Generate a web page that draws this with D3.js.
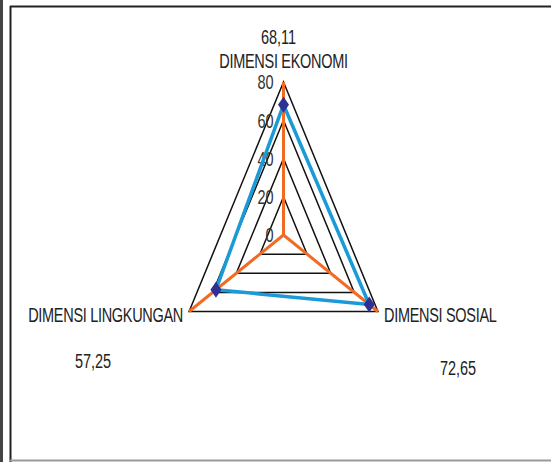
<!DOCTYPE html>
<html>
<head>
<meta charset="utf-8">
<script src="https://cdn.jsdelivr.net/npm/d3@7"></script>
<style>
  body { margin: 0; background: #fff; }
  text { font-family: "Liberation Sans", Arial, sans-serif; fill: #222; }
</style>
</head>
<body>
<div id="chart"></div>
<script>
const width = 551;
const height = 462;

// data
const dimensions = ["DIMENSI EKONOMI", "DIMENSI SOSIAL", "DIMENSI LINGKUNGAN"];
const scores = [68.11, 72.65, 57.25];
const scoreLabels = ["68,11", "72,65", "57,25"];
const ticks = [0, 20, 40, 60, 80];

const cx = 283.5, cy = 235;
const stretch = 1.4; // picture is stretched vertically

const svg = d3.select("#chart").append("svg")
  .attr("width", width)
  .attr("height", height);

// frame
svg.append("rect").attr("x", 0).attr("y", 0).attr("width", 3).attr("height", height).attr("fill", "#444");
svg.append("line").attr("x1", 10).attr("x2", width).attr("y1", 6.5).attr("y2", 6.5)
  .attr("stroke", "#222").attr("stroke-width", 2);
svg.append("line").attr("x1", 10.5).attr("x2", 10.5).attr("y1", 6).attr("y2", height)
  .attr("stroke", "#222").attr("stroke-width", 2);
svg.append("line").attr("x1", 10).attr("x2", width).attr("y1", 460.5).attr("y2", 460.5)
  .attr("stroke", "#999").attr("stroke-width", 2);

const rx = d3.scaleLinear().domain([0, 80]).range([0, 109]);
const ry = d3.scaleLinear().domain([0, 80]).range([0, 153]);
const angle = d3.scalePoint().domain(dimensions).range([0, 2 * Math.PI * 2 / 3]);

function pt(dim, v) {
  const a = angle(dim);
  return [cx + rx(v) * Math.sin(a), cy - ry(v) * Math.cos(a)];
}

// grid rings
svg.append("g")
  .selectAll("path")
  .data(ticks.filter(t => t > 0))
  .enter()
  .append("path")
  .attr("d", t => "M" + dimensions.map(d => pt(d, t).join(",")).join("L") + "Z")
  .attr("fill", "none")
  .attr("stroke", "#111")
  .attr("stroke-width", 1.5);

// spokes
svg.append("g")
  .selectAll("line")
  .data(dimensions)
  .enter()
  .append("line")
  .attr("x1", cx).attr("y1", cy)
  .attr("x2", d => pt(d, 80)[0])
  .attr("y2", d => pt(d, 80)[1])
  .attr("stroke", "#f26b25")
  .attr("stroke-width", 3);

// tick labels
svg.append("g")
  .selectAll("text")
  .data(ticks)
  .enter()
  .append("text")
  .attr("transform", t => "translate(" + (cx - 10) + "," + (cy - ry(t)) + ") scale(1," + stretch + ")")
  .attr("text-anchor", "end")
  .attr("dy", "0.36em")
  .style("font-size", "14.5px")
  .style("fill", "#333")
  .text(t => t);

// series line
const line = d3.line().curve(d3.curveLinearClosed);
svg.append("path")
  .attr("d", line(dimensions.map((d, i) => pt(d, scores[i]))))
  .attr("fill", "none")
  .attr("stroke", "#1b9ad8")
  .attr("stroke-width", 3.5)
  .attr("stroke-linejoin", "miter");

// markers
svg.append("g")
  .selectAll("path")
  .data(dimensions)
  .enter()
  .append("path")
  .attr("transform", (d, i) => {
    const p = pt(d, scores[i]);
    return "translate(" + p[0] + "," + p[1] + ")";
  })
  .attr("d", "M0,-8L5.5,0L0,8L-5.5,0Z")
  .attr("fill", "#2e3192");

// category labels
const labelPos = [
  { x: 283.5, y: 68, anchor: "middle" },
  { x: 384, y: 322, anchor: "start" },
  { x: 183, y: 322, anchor: "end" }
];
svg.append("g")
  .selectAll("text")
  .data(dimensions)
  .enter()
  .append("text")
  .attr("transform", (d, i) => "translate(" + labelPos[i].x + "," + labelPos[i].y + ") scale(1," + stretch + ")")
  .attr("text-anchor", (d, i) => labelPos[i].anchor)
  .style("font-size", "14.5px")
  .style("letter-spacing", "-0.3px")
  .text(d => d);

// value labels
const valuePos = [
  { x: 278.5, y: 44 },
  { x: 458, y: 375 },
  { x: 93, y: 368 }
];
svg.append("g")
  .selectAll("text")
  .data(scoreLabels)
  .enter()
  .append("text")
  .attr("transform", (d, i) => "translate(" + valuePos[i].x + "," + valuePos[i].y + ") scale(1," + stretch + ")")
  .attr("text-anchor", "middle")
  .style("font-size", "14.5px")
  .text(d => d);
</script>
</body>
</html>
